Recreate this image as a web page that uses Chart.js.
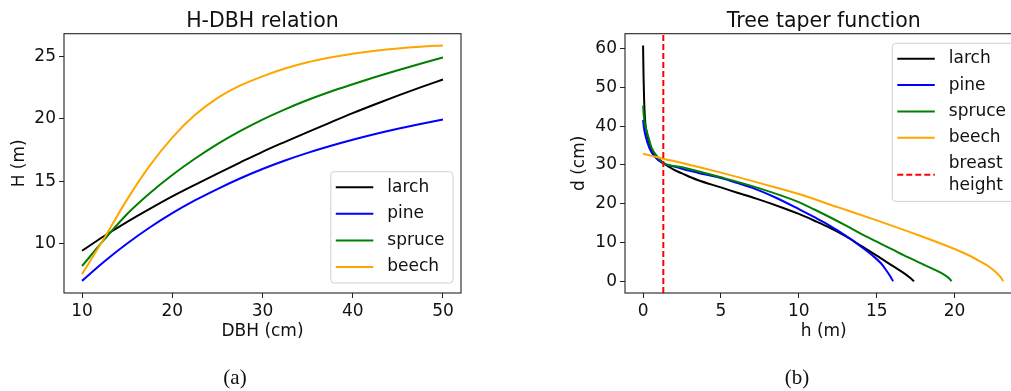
<!DOCTYPE html>
<html>
<head>
<meta charset="utf-8">
<title>H-DBH relation / Tree taper function</title>
<script src="https://cdn.jsdelivr.net/npm/chart.js@4.4.1/dist/chart.umd.min.js"></script>
<style>
  html, body { margin: 0; padding: 0; background: #fff; overflow: hidden; width: 1011px; height: 391px; }
  .panel { position: absolute; top: 0; }
  #hdbh { left: 0; }
  #taper { left: 560px; }
  .caption { position: absolute; top: 365px; width: 60px; margin-left: -30px; text-align: center;
             font-family: "Liberation Serif", serif; font-size: 21px; line-height: 24px; color: #111; }
</style>
</head>
<body>
<canvas id="hdbh" class="panel" width="480" height="391"></canvas>
<canvas id="taper" class="panel" width="480" height="391"></canvas>
<div class="caption" style="left:235px">(a)</div>
<div class="caption" style="left:797px">(b)</div>
<script>
// height over diameter at breast height
const dbh = [10, 12.5, 15, 17.5, 20, 22.5, 25, 27.5, 30, 32.5, 35, 37.5, 40, 42.5, 45, 47.5, 50];
const larchH = [9.44, 10.64, 11.76, 12.8, 13.8, 14.72, 15.62, 16.5, 17.36, 18.16, 18.94, 19.7, 20.45, 21.16, 21.85, 22.51, 23.15];
const pineH = [7.03, 8.6, 10.02, 11.3, 12.45, 13.47, 14.38, 15.22, 15.98, 16.66, 17.27, 17.82, 18.32, 18.78, 19.2, 19.59, 19.95];
const spruceH = [8.22, 10.37, 12.38, 14.04, 15.5, 16.8, 17.97, 19.01, 19.94, 20.76, 21.5, 22.16, 22.76, 23.34, 23.89, 24.41, 24.91];
const beechH = [7.57, 10.5, 13.55, 16.25, 18.5, 20.3, 21.65, 22.65, 23.4, 24.02, 24.52, 24.9, 25.2, 25.44, 25.63, 25.77, 25.87];
const dbhTicks = [10, 20, 30, 40, 50];
const hTicksA = [10, 15, 20, 25];

// stem diameter d (cm) along the stem height h (m)
const larchTaperH = [0, 0.03, 0.07, 0.14, 0.26, 0.5, 0.85, 1.3, 2, 2.5, 3.5, 5, 6, 7.27, 9, 10, 11, 12, 13, 14, 15, 16, 16.7, 17.1, 17.4];
const larchTaperD = [60.8, 53, 46.5, 41, 37.8, 34.4, 32.2, 30.5, 28.7, 27.8, 26.1, 24.2, 22.9, 21.3, 18.9, 17.35, 15.6, 13.75, 11.6, 9.1, 6.6, 4.0, 2.2, 1.0, 0];
const pineTaperH = [0, 0.06, 0.14, 0.4, 0.73, 1.3, 2, 2.5, 3.5, 5, 6, 7.27, 8.5, 10, 11, 12, 13, 14, 14.8, 15.3, 15.6, 15.85, 16.05];
const pineTaperD = [41.6, 39.5, 37.8, 34.4, 32.2, 30.3, 29.6, 29.0, 28.0, 26.6, 25.4, 23.7, 21.6, 18.6, 16.5, 14.3, 11.8, 8.9, 6.4, 4.5, 2.9, 1.4, 0];
const spruceTaperH = [0, 0.05, 0.1, 0.3, 0.55, 0.9, 1.3, 2.5, 5, 7.27, 10, 11, 12, 13, 14, 15, 16, 17, 18, 18.7, 19.2, 19.55, 19.75, 19.8];
const spruceTaperD = [45.3, 42.5, 41, 37.8, 34.4, 32.2, 30.5, 29.4, 26.8, 24.2, 20.4, 18.5, 16.5, 14.4, 12.2, 10.2, 8.2, 6.2, 4.3, 3.0, 2.0, 1.1, 0.3, 0];
const beechTaperH = [0, 0.5, 1, 1.3, 2.5, 5, 7.5, 10, 12.5, 15, 18, 20, 21, 21.6, 22.2, 22.6, 22.9, 23.13];
const beechTaperD = [32.9, 32.4, 31.9, 31.6, 30.5, 28.0, 25.3, 22.5, 19.1, 15.7, 11.4, 8.3, 6.5, 5.2, 3.8, 2.5, 1.3, 0];
const breastHeight = 1.3;
const hTicksB = [0, 5, 10, 15, 20];
const dTicks = [0, 10, 20, 30, 40, 50, 60];

const speciesColors = { larch: 'black', pine: 'blue', spruce: 'green', beech: 'orange' };

Chart.defaults.font.family = "'DejaVu Sans', sans-serif";
Chart.defaults.font.size = 17;
Chart.defaults.color = '#111';

// axes box around the plot area
const frame = {
    id: 'frame',
    afterDatasetsDraw(chart) {
        const { ctx, chartArea: a } = chart;
        ctx.save();
        ctx.strokeStyle = '#222';
        ctx.lineWidth = 1.1;
        ctx.strokeRect(a.left, a.top, a.right - a.left, a.bottom - a.top);
        ctx.restore();
    }
};

// legend box drawn inside the plot area
const boxLegend = {
    id: 'boxLegend',
    afterDraw(chart, args, opts) {
        const { ctx, chartArea: a } = chart;
        const items = chart.data.datasets.map(ds => ({
            lines: ds.label.split('\n'), color: ds.borderColor, dash: ds.borderDash || []
        }));
        ctx.save();
        ctx.font = '17px "DejaVu Sans"';
        const textW = Math.max(...items.flatMap(it => it.lines.map(l => ctx.measureText(l).width)));
        const w = 5 + 37.5 + 14 + textW + 8.5;
        let h = 15.5 + 16 + (items.length - 1) * opts.rowGap;
        items.forEach(it => { h += (it.lines.length - 1) * 21.4; });
        const right = a.right - 8;
        const left = right - w;
        const top = opts.corner === 'lower right' ? a.bottom - 10 - h : a.top + 9.6;

        ctx.beginPath();
        ctx.roundRect(left, top, w, h, 3.5);
        ctx.fillStyle = 'rgba(255,255,255,0.8)';
        ctx.fill();
        ctx.strokeStyle = '#d0d0d0';
        ctx.lineWidth = 1;
        ctx.stroke();

        let y = top + 15.5;
        ctx.textBaseline = 'middle';
        ctx.fillStyle = '#111';
        items.forEach(it => {
            const mid = y + (it.lines.length - 1) * 21.4 / 2;
            ctx.beginPath();
            ctx.setLineDash(it.dash);
            ctx.strokeStyle = it.color;
            ctx.lineWidth = 2;
            ctx.moveTo(left + 5, mid);
            ctx.lineTo(left + 42.5, mid);
            ctx.stroke();
            ctx.setLineDash([]);
            it.lines.forEach((l, k) => ctx.fillText(l, left + 56.5, y + k * 21.4));
            y += (it.lines.length - 1) * 21.4 + opts.rowGap;
        });
        ctx.restore();
    }
};

function curve(label, xs, ys, i) {
    return {
        label: label,
        data: xs.map((x, k) => ({ x: x, y: ys[k] })),
        borderColor: speciesColors[label],
        borderWidth: 2,
        pointRadius: 0,
        cubicInterpolationMode: 'monotone',
        order: 10 - i
    };
}

function axis(min, max, tickList, width, height, title, titlePad) {
    const s = {
        type: 'linear', min: min, max: max,
        afterBuildTicks: sc => { sc.ticks = tickList.map(v => ({ value: v })); },
        grid: { drawOnChartArea: false, tickLength: 5, color: '#222' },
        border: { display: false },
        ticks: { color: '#111', padding: 3, maxRotation: 0, autoSkip: false },
        title: { display: true, text: title, color: '#111', padding: titlePad }
    };
    if (width) s.afterFit = sc => { sc.width = width; };
    if (height) s.afterFit = sc => { sc.height = height; };
    return s;
}

function baseOptions(titleText, legendCorner, rowGap) {
    return {
        responsive: false,
        animation: false,
        events: [],
        layout: { padding: { left: 0, right: 0, top: 0, bottom: 46 } },
        plugins: {
            legend: { display: false },
            tooltip: { enabled: false },
            title: {
                display: true, text: titleText, fullSize: false, color: '#111',
                font: { size: 20.5, weight: 'normal' }, padding: { top: 9, bottom: 0.1 }
            },
            boxLegend: { corner: legendCorner, rowGap: rowGap }
        }
    };
}

const optsA = baseOptions('H-DBH relation', 'lower right', 26.6);
optsA.layout.padding.right = 19;
optsA.scales = {
    x: axis(8, 52, dbhTicks, 0, 52, 'DBH (cm)', { top: 0, bottom: 3 }),
    y: axis(6.06, 26.81, hTicksA, 64, 0, 'H (m)', { top: 9, bottom: 0 })
};

new Chart(document.getElementById('hdbh'), {
    type: 'line',
    data: {
        datasets: [
            curve('larch', dbh, larchH, 0),
            curve('pine', dbh, pineH, 1),
            curve('spruce', dbh, spruceH, 2),
            curve('beech', dbh, beechH, 3)
        ]
    },
    options: optsA,
    plugins: [frame, boxLegend]
});

const dMin = -3.04, dMax = 63.84;
const optsB = baseOptions('Tree taper function', 'upper right', 26.3);
optsB.layout.padding.right = 17.5;
optsB.scales = {
    x: axis(-1.16, 24.36, hTicksB, 0, 52, 'h (m)', { top: 0, bottom: 3 }),
    y: axis(dMin, dMax, dTicks, 65, 0, 'd (cm)', { top: 9.5, bottom: 0 })
};

new Chart(document.getElementById('taper'), {
    type: 'line',
    data: {
        datasets: [
            curve('larch', larchTaperH, larchTaperD, 0),
            curve('pine', pineTaperH, pineTaperD, 1),
            curve('spruce', spruceTaperH, spruceTaperD, 2),
            curve('beech', beechTaperH, beechTaperD, 3),
            {
                label: 'breast\nheight',
                data: [{ x: breastHeight, y: dMin }, { x: breastHeight, y: dMax }],
                borderColor: 'red',
                borderWidth: 2,
                borderDash: [6, 3],
                pointRadius: 0,
                tension: 0,
                order: 1
            }
        ]
    },
    options: optsB,
    plugins: [frame, boxLegend]
});
</script>
</body>
</html>
